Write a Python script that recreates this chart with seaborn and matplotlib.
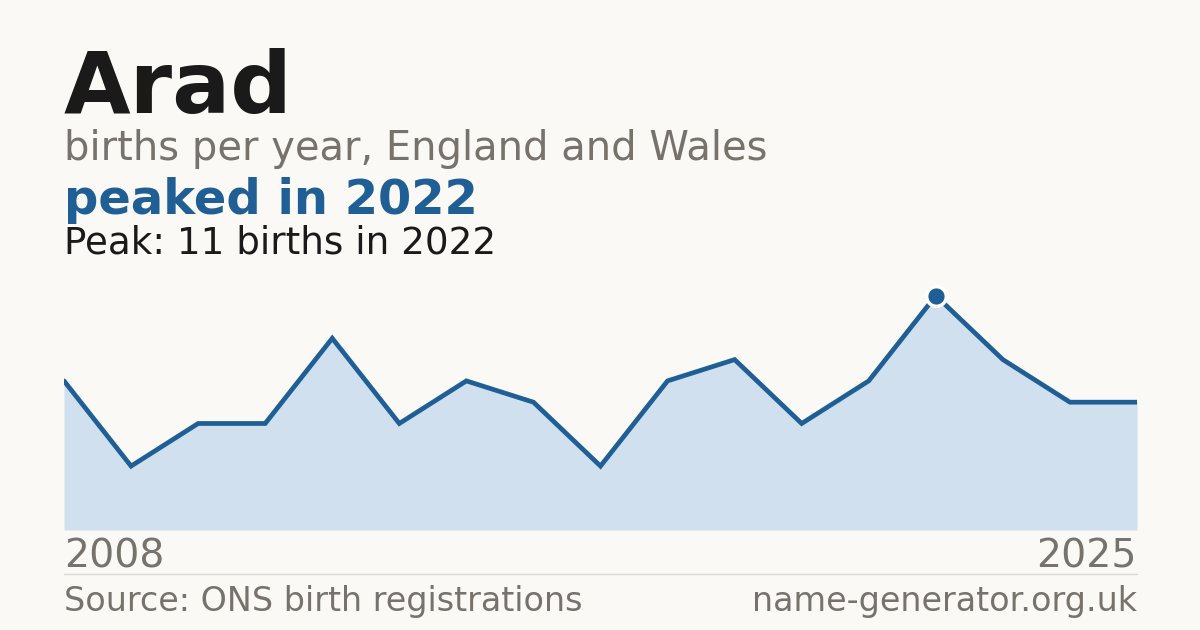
import matplotlib
matplotlib.use("Agg")
import matplotlib.pyplot as plt
import seaborn as sns
import pandas as pd

# ---- data ----
years = list(range(2009, 2026))
births = [7, 3, 5, 5, 9, 5, 7, 6, 3, 7, 8, 5, 7, 11, 8, 6, 6]
peak_year = 2022
peak_value = 11
axis_labels = ["2008", "2025"]

title = "Arad"
subtitle = "births per year, England and Wales"
headline = "peaked in 2022"
peak_text = "Peak: 11 births in 2022"
source_text = "Source: ONS birth registrations"
site_text = "name-generator.org.uk"

BG = "#faf9f5"
BLUE = "#1f5f96"
FILL = "#d0e0ef"
GRAY = "#77726b"
DARK = "#1a1a1a"

sns.set_theme(style="white")
plt.rcParams["font.family"] = ["DejaVu Sans"]

df = pd.DataFrame({"year": years, "births": births})

W, H = 1200, 630
fig = plt.figure(figsize=(12, 6.3), dpi=100, facecolor=BG)

def fx(px):
    return px / W

def fy(py):
    return 1 - py / H

ax_left, ax_right, ax_bottom, ax_top = 64, 1137, 530, 268
ax = fig.add_axes([fx(ax_left), fy(ax_bottom), fx(ax_right - ax_left), (ax_bottom - ax_top) / H])
ax.set_facecolor(BG)

ax.fill_between(df["year"], df["births"], 0, color=FILL, linewidth=0, zorder=1)
sns.lineplot(data=df, x="year", y="births", ax=ax, color=BLUE, linewidth=3.4,
             solid_joinstyle="miter", zorder=2)
pk = df[df["year"] == peak_year]
sns.scatterplot(data=pk, x="year", y="births", ax=ax, color=BLUE, s=200,
                edgecolor="white", linewidth=2.5, zorder=3)

ax.set_xlim(years[0], years[-1])
ax.set_ylim(0, 12.3)
ax.axis("off")

# texts
fig.text(fx(64), fy(113), title, fontsize=62, fontweight="bold", color=DARK, va="baseline", ha="left")
fig.text(fx(64), fy(160), subtitle, fontsize=28.8, color=GRAY, va="baseline", ha="left")
fig.text(fx(64), fy(214), headline, fontsize=34.6, fontweight="bold", color=BLUE, va="baseline", ha="left")
fig.text(fx(64), fy(253), peak_text, fontsize=26.8, color=DARK, va="baseline", ha="left")

fig.text(fx(64), fy(568), axis_labels[0], fontsize=28.4, color=GRAY, va="baseline", ha="left")
fig.text(fx(1137), fy(568), axis_labels[1], fontsize=28.4, color=GRAY, va="baseline", ha="right")

fig.add_artist(plt.Line2D([fx(64), fx(1137)], [fy(574), fy(574)], color="#dddad3", linewidth=1))

fig.text(fx(64), fy(611), source_text, fontsize=24, color=GRAY, va="baseline", ha="left")
fig.text(fx(1137), fy(611), site_text, fontsize=24, color=GRAY, va="baseline", ha="right")

fig.savefig("out.png", dpi=100, facecolor=BG)
